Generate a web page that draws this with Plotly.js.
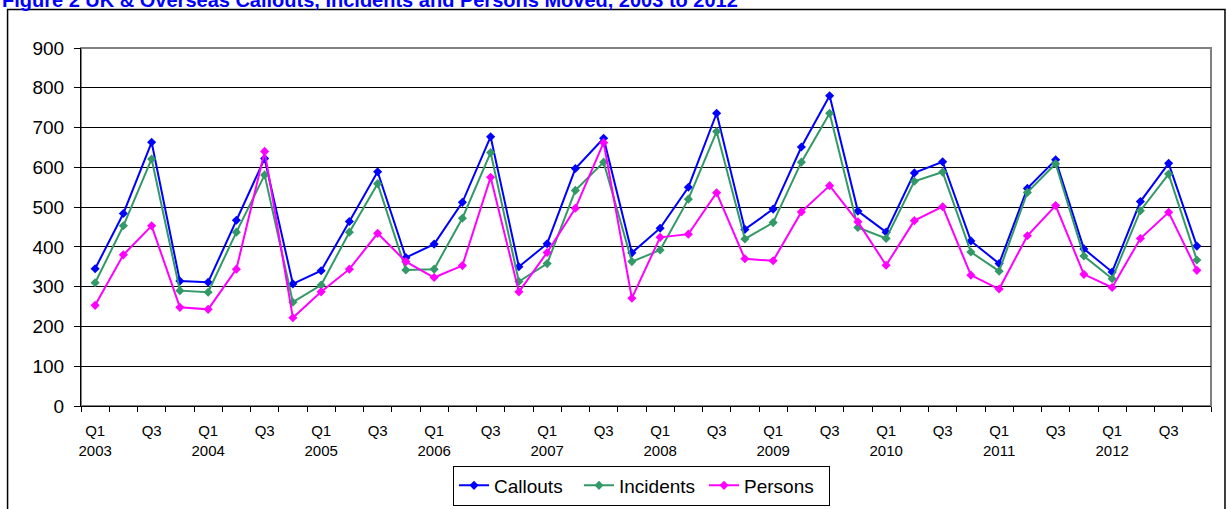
<!DOCTYPE html>
<html>
<head>
<meta charset="utf-8">
<script src="https://cdn.plot.ly/plotly-3.0.1.min.js"></script>
<style>
html,body{margin:0;padding:0;background:#fff;}
#chart{width:1227px;height:509px;}
</style>
</head>
<body>
<div id="chart"></div>
<script>
// ---- data ----
const quarters = ['Q1','Q2','Q3','Q4'];
const years = ['2003','2004','2005','2006','2007','2008','2009','2010','2011','2012'];
const callouts  = [345,484,663,314, 311,467,622,307, 340,464,589,373, 407,512,677,350, 408,597,673,385,
                   447,550,736,444, 495,651,780,490, 437,586,614,415, 358,547,619,395, 337,514,610,402];
const incidents = [310,453,621,290, 286,437,581,261, 304,437,559,342, 344,472,637,313, 358,542,613,363,
                   392,520,690,420, 461,613,736,449, 421,565,588,387, 339,537,609,377, 320,491,583,367];
const persons   = [253,380,453,248, 243,344,640,222, 287,344,434,363, 323,353,575,287, 386,497,662,271,
                   424,432,536,370, 365,488,554,463, 354,466,501,329, 294,428,504,331, 298,421,487,341];
const titleText = 'Figure 2 UK &amp; Overseas Callouts, Incidents and Persons Moved, 2003 to 2012';

// ---- build ----
const periods = [];
years.forEach(y => quarters.forEach(q => periods.push({q:q, y:y})));
const xs = periods.map((p,i) => i);
const tickvals = [], ticktext = [];
periods.forEach((p,i) => {
  if (p.q === 'Q1') { tickvals.push(i); ticktext.push(p.q + '<br>' + p.y); }
  else if (p.q === 'Q3') { tickvals.push(i); ticktext.push(p.q); }
});

const FONT = 'Arial, "Liberation Sans", sans-serif';
function tr(name, vals, color){
  return {x: xs, y: vals, name: name, type:'scatter', mode:'lines+markers',
    line:{color:color, width:2}, marker:{symbol:'diamond', size:7, color:color}};
}
const data = [tr('Callouts', callouts, '#0000FF'), tr('Incidents', incidents, '#339966'), tr('Persons', persons, '#FF00FF')];

// plot area in pixels: left 80.5, right 1211.5, top 48, bottom 406
const L=80.5, R=1211.5, T=48, B=406, W=R-L, H=B-T;
const px = x => (x-L)/W, py = y => (B-y)/H;

const layout = {
  width:1227, height:509,
  margin:{l:L, r:1227-R, t:T, b:509-B, pad:0, autoexpand:false},
  paper_bgcolor:'#fff', plot_bgcolor:'#fff',
  font:{family:FONT, color:'#000'},
  showlegend:true,
  legend:{orientation:'h', x:px(641.5), xanchor:'center', y:py(485.5), yanchor:'middle',
    bordercolor:'#000', borderwidth:1, font:{size:19, family:FONT}, bgcolor:'#fff',
    itemwidth:30, tracegroupgap:0, entrywidth:80},
  xaxis:{range:[-0.5, 39.5], tickmode:'array', tickvals:tickvals, ticktext:ticktext,
    ticks:'', showgrid:false, zeroline:false, showline:true, linecolor:'#000', linewidth:1,
    tickfont:{size:15, family:FONT}, ticklabelstandoff:11, automargin:false,
    minor:{ticks:'outside', tick0:-0.5, dtick:1, ticklen:5, tickcolor:'#000', tickwidth:1, showgrid:false}},
  yaxis:{range:[0,900], dtick:100, tick0:0, ticks:'outside', ticklen:6, tickcolor:'#000', automargin:false,
    showgrid:true, gridcolor:'#000', gridwidth:1, zeroline:false, showline:true, linecolor:'#000', linewidth:1,
    tickfont:{size:19, family:FONT}, ticklabelstandoff:6},
  shapes:[
    {type:'rect', xref:'paper', yref:'paper', x0:0, x1:1, y0:0, y1:1, line:{color:'#808080', width:2}, layer:'below'},
    {type:'rect', xref:'paper', yref:'paper', x0:px(7), x1:px(1225.5), y0:py(520), y1:py(9.5), line:{color:'#000', width:1.5}, layer:'above'}
  ],
  annotations:[
    {text:'<b>'+titleText+'</b>', xref:'paper', yref:'paper', x:px(-1), y:py(0), xanchor:'left', yanchor:'middle',
     showarrow:false, font:{size:20, color:'#0000FF', family:FONT}}
  ]
};
Plotly.newPlot('chart', data, layout, {staticPlot:true, displayModeBar:false});
</script>
</body>
</html>
